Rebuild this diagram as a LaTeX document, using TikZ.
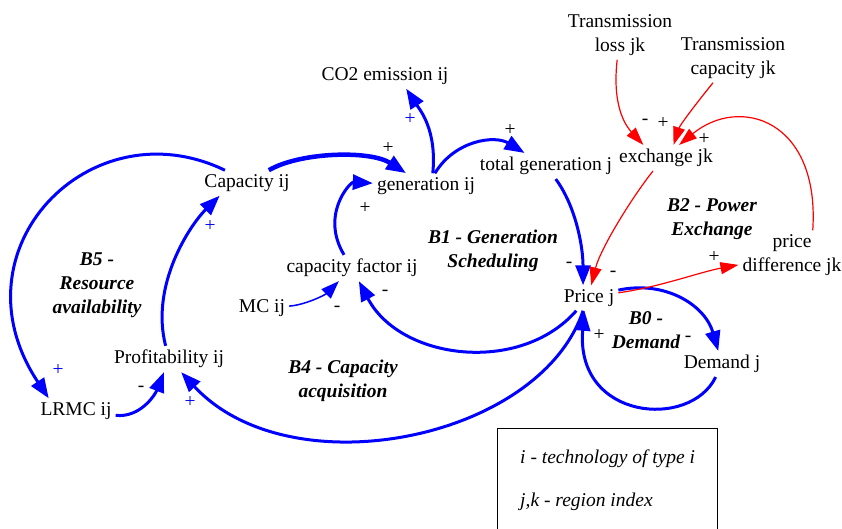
\documentclass[tikz,border=0pt]{standalone}
\usepackage{fontspec}
\setmainfont{Liberation Serif}
\usetikzlibrary{arrows.meta}
\newcommand{\diagfont}{\fontsize{19.5}{24}\selectfont}

\begin{document}
\begin{tikzpicture}[x=1pt, y=-1pt,
    var/.style={font=\diagfont, align=center, inner sep=4pt},
    loopname/.style={font=\diagfont\bfseries\itshape, align=center},
    sgn/.style={font=\diagfont, inner sep=0pt},
    bsgn/.style={sgn, blue},
    link/.style={blue, line width=3pt, -{Triangle[length=20pt,width=15pt]}},
    thinlink/.style={blue, line width=1.5pt, -{Triangle[length=18pt,width=13pt]}},
    xlink/.style={red, line width=1.2pt, -{Triangle[length=18pt,width=12pt]}}]
  \useasboundingbox (0,0) rectangle (842,529);

  % variables
  \node[var] (tloss) at (620,35) {Transmission\\loss jk};
  \node[var] (tcap) at (733,58) {Transmission\\capacity jk};
  \node[var] (exch) at (666,158) {exchange jk};
  \node[var] (pdiff) at (792,255) {price\\difference jk};
  \node[var] (price) at (589,298) {Price j};
  \node[var] (dem) at (722,364) {Demand j};
  \node[var] (tot) at (546,166) {total generation j};
  \node[var] (gen) at (426,186) {generation ij};
  \node[var] (co2) at (385,76) {CO2 emission ij};
  \node[var] (cap) at (247,183) {Capacity ij};
  \node[var] (cf) at (352,268) {capacity factor ij};
  \node[var] (mc) at (262,308) {MC ij};
  \node[var] (prof) at (169,359) {Profitability ij};
  \node[var] (lrmc) at (76,411) {LRMC ij};

  % loops
  \node[loopname] (b1) at (493,251) {B1 - Generation\\Scheduling};
  \node[loopname] (b2) at (712,219) {B2 - Power\\Exchange};
  \node[loopname] (b5) at (97,285) {B5 -\\Resource\\availability};
  \node[loopname] (b4) at (343,381) {B4 - Capacity\\acquisition};
  \node[loopname] (b0) at (646,330) {B0 -\\Demand};

  % blue links
  \draw[link, line width=4.5pt] (cap) .. controls (300,152) and (370,150) .. (gen);
  \draw[link] (gen.62) .. controls (437,130) and (420,110) .. (co2.-31);
  \draw[link] (gen.55) .. controls (455,140) and (495,135) .. (tot);
  \draw[link] (tot) .. controls (575,205) and (583,245) .. (price.115);
  \draw[link] (cf) .. controls (320,215) and (350,182) .. (gen);
  \draw[thinlink] (mc) .. controls (305,305) and (325,295) .. (cf);
  \draw[link] (price.225) .. controls (520,375) and (400,360) .. (cf);
  \draw[link] (price.245) .. controls (540,440) and (290,490) .. (prof);
  \draw[link] (price.15) .. controls (665,280) and (705,305) .. (dem);
  \draw[link] (dem) .. controls (690,430) and (575,420) .. (price.250);
  \draw[link] (prof) .. controls (150,285) and (190,225) .. (cap.205);
  \draw[link] (cap.150) .. controls (90,105) and (-50,250) .. (lrmc.155);
  \draw[link] (lrmc) .. controls (140,418) and (155,395) .. (prof);

  % red links
  \draw[xlink] (tloss) .. controls (612,105) and (625,125) .. (exch.150);
  \draw[xlink] (tcap) .. controls (695,105) and (680,125) .. (exch.60);
  \draw[xlink] (pdiff.50) .. controls (820,120) and (740,95) .. (exch.45);
  \draw[xlink] (exch.225) .. controls (630,200) and (600,250) .. (price.80);
  \draw[xlink] (price.10) .. controls (660,287) and (700,272) .. (pdiff);

  % polarities
  \node[sgn] (sg1) at (388,148) {+};
  \node[bsgn] (sg2) at (410,119) {+};
  \node[sgn] (sg3) at (510,130) {+};
  \node[sgn] (sg4) at (365,208) {+};
  \node[sgn] (sg5) at (569,265) {-};
  \node[sgn] (sg6) at (613,274) {-};
  \node[sgn] (sg7) at (714,257) {+};
  \node[sgn] (sg8) at (688,339) {-};
  \node[sgn] (sg9) at (599,335) {+};
  \node[sgn] (sg10) at (337,309) {-};
  \node[sgn] (sg11) at (385,293) {-};
  \node[bsgn] (sg12) at (210,226) {+};
  \node[bsgn] (sg13) at (58,370) {+};
  \node[sgn] (sg14) at (141,389) {-};
  \node[bsgn] (sg15) at (190,402) {+};
  \node[sgn] (sg16) at (645,122) {-};
  \node[sgn] (sg17) at (663,123) {+};
  \node[sgn] (sg18) at (704,139) {+};

  % legend
  \draw[line width=0.8pt] (497,428) rectangle (717,545);
  \node[font=\diagfont\itshape, anchor=base west, inner sep=0pt] (leg1) at (520,463) {i - technology of type i};
  \node[font=\diagfont\itshape, anchor=base west, inner sep=0pt] (leg2) at (520,506) {j,k - region index};
\end{tikzpicture}
\end{document}
